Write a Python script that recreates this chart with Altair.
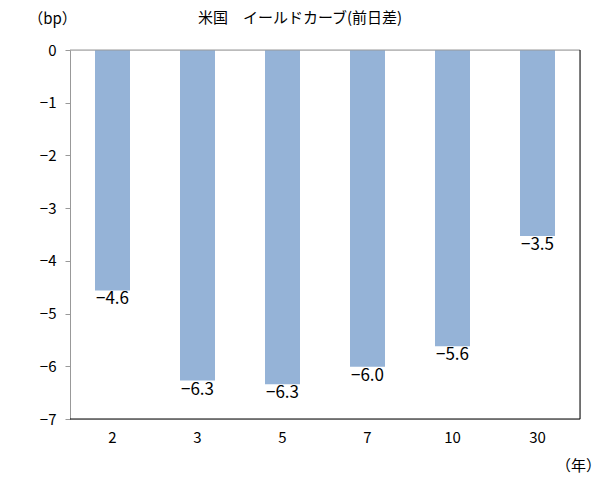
import altair as alt
import pandas as pd

maturities = ["2", "3", "5", "7", "10", "30"]
changes = [-4.56, -6.27, -6.34, -6.01, -5.62, -3.53]
y_ticks = [0, -1, -2, -3, -4, -5, -6, -7]
title_text = "米国　イールドカーブ(前日差)"

df = pd.DataFrame({"maturity": maturities, "change": changes})

FONT = "Noto Sans CJK JP"
W, H = 510, 369

x_enc = alt.X("maturity:N", sort=maturities,
              scale=alt.Scale(paddingInner=0, paddingOuter=0),
              axis=alt.Axis(title="（年）", titleAngle=0, titleX=508, titleY=46,
                            titleAlign="center", titleBaseline="middle",
                            titleFontWeight="normal", titleFontSize=15, titleFont=FONT,
                            labelAngle=0, labelFontSize=15, labelFont=FONT, labelColor="black",
                            labelPadding=11, ticks=False, domain=False, grid=False))
y_enc = alt.Y("change:Q", scale=alt.Scale(domain=[-7, 0], nice=False),
              axis=alt.Axis(values=y_ticks, title="（bp）", titleAngle=0, titleX=-18, titleY=-32,
                            titleAlign="center", titleBaseline="middle",
                            titleFontWeight="normal", titleFontSize=15, titleFont=FONT,
                            labelFontSize=15, labelFont=FONT, labelColor="black", labelPadding=9,
                            tickSize=5, tickColor="#999999", domainColor="#999999",
                            grid=False, format="d"))

base = alt.Chart(df)
bars = base.mark_bar(size=35, color="#95B3D7").encode(x=x_enc, y=y_enc)
labels = base.mark_text(baseline="top", dy=1, fontSize=17, font=FONT, color="black").encode(
    x=alt.X("maturity:N", sort=maturities),
    y="change:Q",
    text=alt.Text("change:Q", format=".1f"))

zero_rule = alt.Chart(pd.DataFrame({"v": [0]})).mark_rule(color="#999999", strokeWidth=1).encode(y="v:Q")
bottom_rule = alt.Chart(pd.DataFrame({"v": [-7]})).mark_rule(color="black", strokeWidth=1).encode(y="v:Q")
right_rule = alt.Chart(pd.DataFrame({"v": [0]})).mark_rule(color="black", strokeWidth=1).encode(
    x=alt.value(W), y=alt.value(0), y2=alt.value(H))
title = alt.Chart(pd.DataFrame({"t": [title_text]})).mark_text(
    fontSize=15, font=FONT, color="black", align="center", baseline="middle").encode(
    text="t:N", x=alt.value(230), y=alt.value(-32))

chart = alt.layer(bars, labels, zero_rule, bottom_rule, right_rule, title).properties(
    width=W, height=H,
    autosize=alt.AutoSizeParams(type="none"),
    padding={"left": 70, "top": 50, "right": 34, "bottom": 63},
).configure_view(stroke=None).configure(background="white")

chart.save("out.html", embed_options={"renderer": "svg", "actions": False})
